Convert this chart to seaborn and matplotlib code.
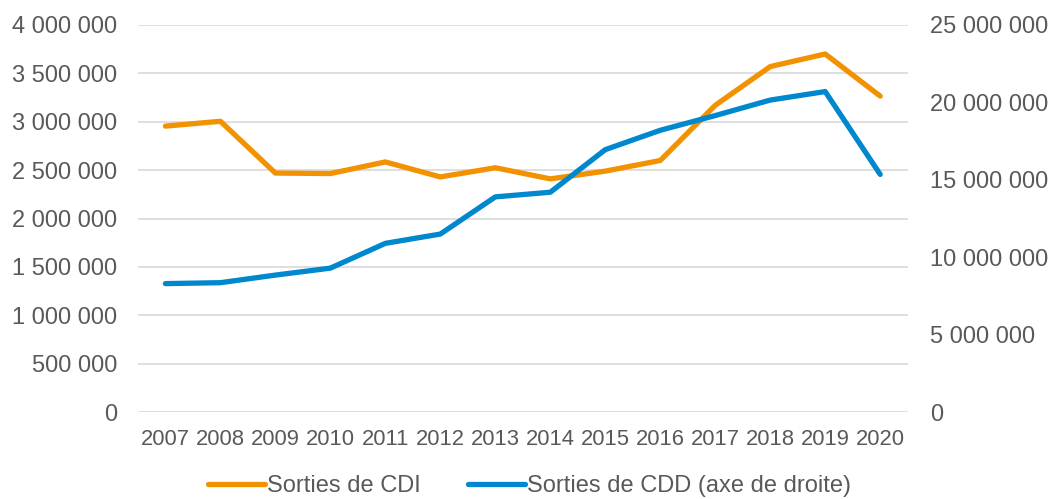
import matplotlib
matplotlib.use("Agg")
import matplotlib.pyplot as plt
from matplotlib.ticker import FuncFormatter, MultipleLocator
import seaborn as sns
import pandas as pd

years = ["2007", "2008", "2009", "2010", "2011", "2012", "2013",
         "2014", "2015", "2016", "2017", "2018", "2019", "2020"]
cdi = [2955000, 3005000, 2470000, 2465000, 2585000, 2430000, 2525000,
       2410000, 2490000, 2600000, 3170000, 3570000, 3700000, 3265000]
cdd = [8300000, 8360000, 8850000, 9300000, 10900000, 11500000, 13900000,
       14200000, 16950000, 18200000, 19150000, 20150000, 20700000, 15350000]

sns.set_theme(style="white")
plt.rcParams['font.family'] = ['Liberation Sans', 'DejaVu Sans']

GREY = "#595959"
ORANGE = "#F39200"
BLUE = "#0088CE"
FS = 17

df = pd.DataFrame({"pos": range(len(years)), "year": years, "cdi": cdi, "cdd": cdd})

fig = plt.figure(figsize=(10.53, 4.99), dpi=100)
ax = fig.add_axes([0.131, 0.174, 0.731, 0.776])
ax2 = ax.twinx()

sns.lineplot(data=df, x="pos", y="cdi", ax=ax, color=ORANGE, linewidth=3.8,
             label="Sorties de CDI", legend=False, solid_capstyle="round", zorder=3)
sns.lineplot(data=df, x="pos", y="cdd", ax=ax2, color=BLUE, linewidth=3.8,
             label="Sorties de CDD (axe de droite)", legend=False, solid_capstyle="round", zorder=3)

fmt = FuncFormatter(lambda v, p: f"{int(round(v)):,}".replace(",", "\u00a0"))

ax.set_xlim(-0.5, len(years) - 0.5)
ax.set_ylim(0, 4000000)
ax.yaxis.set_major_locator(MultipleLocator(500000))
ax.yaxis.set_major_formatter(fmt)
ax2.set_ylim(0, 25000000)
ax2.yaxis.set_major_locator(MultipleLocator(5000000))
ax2.yaxis.set_major_formatter(fmt)

ax.set_xticks(range(len(years)))
ax.set_xticklabels(years)

ax.grid(axis="y", color="#D9D9D9", linewidth=1.2)
ax.set_axisbelow(True)
ax2.grid(False)
for a in (ax, ax2):
    for s in a.spines.values():
        s.set_visible(False)
    a.set_xlabel("")
    a.set_ylabel("")
ax.tick_params(axis="y", length=0, pad=15, labelsize=FS, labelcolor=GREY)
ax.tick_params(axis="x", length=0, pad=12, labelsize=FS - 1.2, labelcolor=GREY)
ax2.tick_params(axis="y", length=0, pad=16, labelsize=FS, labelcolor=GREY)

h1, l1 = ax.get_legend_handles_labels()
h2, l2 = ax2.get_legend_handles_labels()
fig.legend(h1 + h2, l1 + l2, loc="center", bbox_to_anchor=(0.503, 0.026), ncol=2,
           frameon=False, fontsize=FS, labelcolor=GREY, handlelength=2.4,
           handletextpad=0.1, columnspacing=2.0, borderpad=0, borderaxespad=0)

fig.savefig("out.png", dpi=100)
